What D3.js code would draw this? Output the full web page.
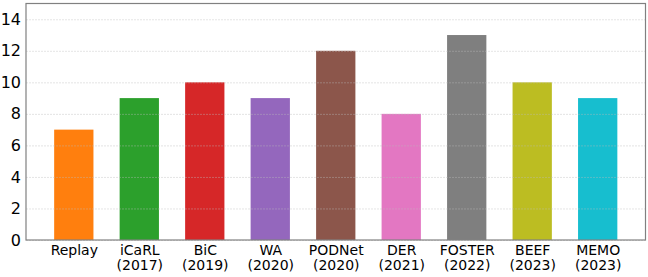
<!DOCTYPE html>
<html><head><meta charset="utf-8">
<script src="https://cdn.jsdelivr.net/npm/d3@7"></script>
<style>body{margin:0;background:#fff}svg{display:block}text{font-family:"DejaVu Sans",sans-serif}</style>
</head><body><svg id="c" width="648" height="277"></svg>
<script>
const methods = ["Replay","iCaRL","BiC","WA","PODNet","DER","FOSTER","BEEF","MEMO"];
const years = ["","(2017)","(2019)","(2020)","(2020)","(2021)","(2022)","(2023)","(2023)"];
const values = [7,9,10,9,12,8,13,10,9];
const colors = ["#ff7f0e","#2ca02c","#d62728","#9467bd","#8c564b","#e377c2","#7f7f7f","#bcbd22","#17becf"];
const yTicks = [0,2,4,6,8,10,12,14];

const svg = d3.select("#c");
const L=26, R=645.5, T=3.5, B=240;
const x = d3.scaleLinear().domain([-0.73, 8.73]).range([L,R]);
const y = d3.scaleLinear().domain([0,15]).range([B,T]);
const bw = x(0.6)-x(0);

svg.selectAll("rect.bar").data(values).join("rect").attr("class","bar")
  .attr("x",(d,i)=>x(i)-bw/2).attr("width",bw)
  .attr("y",d=>y(d)).attr("height",d=>B-y(d))
  .attr("fill",(d,i)=>colors[i]);

const ya = svg.append("g").attr("transform",`translate(${L},0)`)
  .call(d3.axisLeft(y).tickValues(yTicks).tickSize(-(R-L)).tickPadding(5));
ya.select(".domain").remove();
ya.selectAll(".tick line").attr("stroke","#bbb").attr("stroke-opacity",0.5).attr("stroke-dasharray","2,1").attr("stroke-width",0.8);
ya.selectAll(".tick text").attr("font-size",16).attr("fill","#000").attr("font-family","DejaVu Sans");

const xa = svg.append("g").attr("transform",`translate(0,${B})`)
  .call(d3.axisBottom(x).tickValues(d3.range(methods.length)).tickSize(0).tickFormat(""));
xa.select(".domain").remove();
xa.selectAll(".tick").each(function(d,i){
  const t = d3.select(this).append("text").attr("fill","#000").attr("font-size",14).attr("text-anchor","middle");
  t.append("tspan").attr("x",0).attr("y",15).text(methods[i]);
  if (years[i]) t.append("tspan").attr("x",0).attr("y",30).text(years[i]);
});

svg.append("rect").attr("x",L).attr("y",T).attr("width",R-L).attr("height",B-T)
  .attr("fill","none").attr("stroke","#808080").attr("stroke-width",1.2);
</script></body></html>
